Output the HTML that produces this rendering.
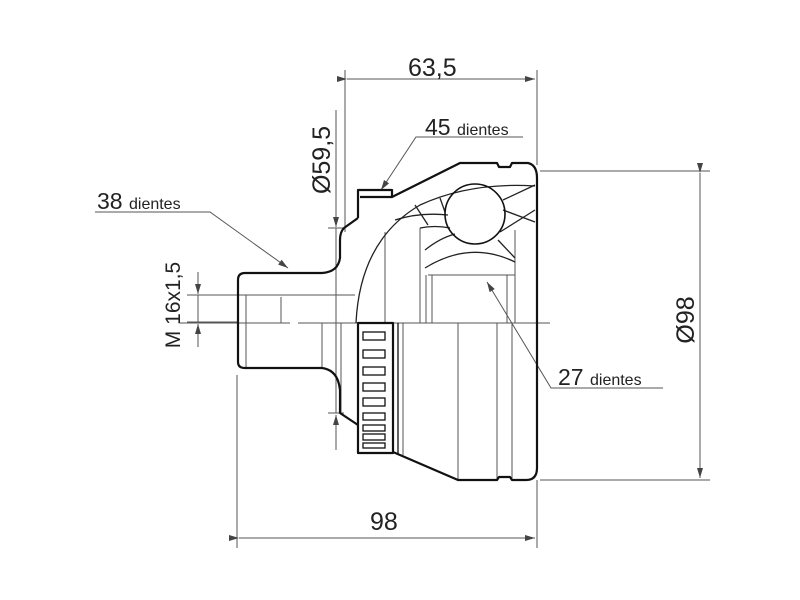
<!DOCTYPE html>
<html><head><meta charset="utf-8"><style>
html,body{margin:0;padding:0;background:#fff;}
svg{display:block;}
text{font-family:"Liberation Sans",sans-serif;fill:#222;}
</style></head><body>
<svg width="800" height="600" viewBox="0 0 800 600" xmlns="http://www.w3.org/2000/svg">
<defs>
<marker id="a" viewBox="0 0 10 6" refX="10" refY="3" markerWidth="11" markerHeight="6" orient="auto" markerUnits="userSpaceOnUse"><path d="M0,0 L10,3 L0,6 Z" fill="#444"/></marker>
</defs>
<g stroke="#555" stroke-width="1" fill="none">
<line x1="345" y1="70" x2="345" y2="232"/>
<line x1="537" y1="70" x2="537" y2="165"/>
<line x1="347" y1="79" x2="535" y2="79" marker-start="url(#a)" marker-end="url(#a)"/>
<line x1="336" y1="110" x2="336" y2="227" marker-end="url(#a)"/>
<line x1="336" y1="450" x2="336" y2="415" marker-end="url(#a)"/>
<line x1="328" y1="228" x2="344" y2="228"/>
<line x1="328" y1="413" x2="344" y2="413"/>
<line x1="336" y1="228" x2="336" y2="413"/>
<polyline points="523,137 416,137 381,190" marker-end="url(#a)"/>
<polyline points="95,212 210,212 288,268" marker-end="url(#a)"/>
<line x1="198" y1="272" x2="198" y2="294" marker-end="url(#a)"/>
<line x1="198" y1="347" x2="198" y2="324" marker-end="url(#a)"/>
<line x1="187" y1="295" x2="238" y2="295"/>
<line x1="187" y1="322" x2="238" y2="322"/>
<line x1="198" y1="295" x2="198" y2="322"/>
<line x1="540" y1="171" x2="710" y2="171"/>
<line x1="540" y1="480" x2="710" y2="480"/>
<line x1="700" y1="173" x2="700" y2="478" marker-start="url(#a)" marker-end="url(#a)"/>
<line x1="237" y1="375" x2="237" y2="548"/>
<line x1="537" y1="480" x2="537" y2="548"/>
<line x1="239" y1="538" x2="535" y2="538" marker-start="url(#a)" marker-end="url(#a)"/>
<polyline points="663,388 551,388 487,282" marker-end="url(#a)"/>
<line x1="180" y1="323" x2="290" y2="323"/>
<line x1="298" y1="323" x2="550" y2="323"/>
<line x1="238" y1="295" x2="355" y2="295"/>
<line x1="281" y1="297" x2="281" y2="323"/>
<line x1="246" y1="295" x2="246" y2="368"/>
<line x1="322" y1="323" x2="322" y2="368"/>
<line x1="341" y1="323" x2="341" y2="413"/>
<line x1="385" y1="232" x2="385" y2="323"/>
<line x1="403" y1="323" x2="403" y2="455"/>
<line x1="458" y1="323" x2="458" y2="480"/>
<line x1="497" y1="323" x2="497" y2="480"/>
<line x1="512" y1="323" x2="512" y2="480"/>
<line x1="420" y1="228" x2="420" y2="323"/>
<line x1="426" y1="275" x2="426" y2="323"/>
<line x1="428" y1="275" x2="515" y2="275"/>
<line x1="432" y1="275" x2="432" y2="323"/>
<line x1="515" y1="230" x2="515" y2="323"/>
<line x1="507" y1="275" x2="507" y2="323"/>
</g>
<g stroke="#222" stroke-width="1.3" fill="none">
<path d="M356,323 Q360,240 420,205 Q470,182 535,186"/>
<path d="M425,268 Q470,240 515,262"/>
<path d="M395,220 Q420,212 448,215"/>
<path d="M420,228 Q435,225 450,228"/>
<path d="M425,250 Q440,238 455,234"/>
<path d="M415,205 L428,225"/>
<path d="M440,198 L445,212"/>
<path d="M503,200 L535,185"/>
<path d="M503,210 L535,222"/>
<path d="M500,232 L535,210"/>
<path d="M498,240 L515,258"/>
</g>
<g stroke="#111" stroke-width="2.2" fill="none" stroke-linejoin="round">
<path d="M358,218 L358,190 L392,190 L392,197 L460,163 L497,163 L499,167 L510,167 L512,163 L528,163 Q537,165 537,178 L537,468 Q537,480 526,480 L512,480 L510,477 L499,477 L497,480 L458,480 L393,452"/>
<path d="M358,218 L344,228 Q340,232 340,240 L340,258 Q338,272 322,273 L245,273 Q238,273 238,280 L238,362 Q238,368 245,368 L322,368 Q338,370 340,390 L340,413 L358,425"/>
<line x1="360" y1="197" x2="392" y2="197"/>
<rect x="358" y="323" width="35" height="130"/>
<circle cx="475" cy="214" r="30" stroke-width="1.6"/>
</g>
<g stroke="#111" stroke-width="1.3" fill="none">
<rect x="363" y="332" width="22" height="8"/>
<rect x="363" y="350" width="22" height="8"/>
<rect x="363" y="367" width="22" height="8"/>
<rect x="363" y="383" width="22" height="8"/>
<rect x="363" y="398" width="22" height="8"/>
<rect x="363" y="413" width="22" height="7"/>
<rect x="363" y="425" width="22" height="6"/>
<rect x="363" y="434" width="22" height="6"/>
<rect x="363" y="443" width="22" height="5"/>
<line x1="398" y1="323" x2="398" y2="455"/>
</g>
<text x="408" y="76" font-size="25">63,5</text>
<text x="425" y="135" font-size="23">45 <tspan font-size="16">dientes</tspan></text>
<text x="97" y="209" font-size="23">38 <tspan font-size="16">dientes</tspan></text>
<text x="558" y="385" font-size="23">27 <tspan font-size="16">dientes</tspan></text>
<text x="370" y="530" font-size="25">98</text>
<text transform="translate(330,160) rotate(-90)" text-anchor="middle" font-size="25">Ø59,5</text>
<text transform="translate(180,305) rotate(-90)" text-anchor="middle" font-size="21">M 16x1,5</text>
<text transform="translate(694,320) rotate(-90)" text-anchor="middle" font-size="25">Ø98</text>
</svg>
</body></html>
